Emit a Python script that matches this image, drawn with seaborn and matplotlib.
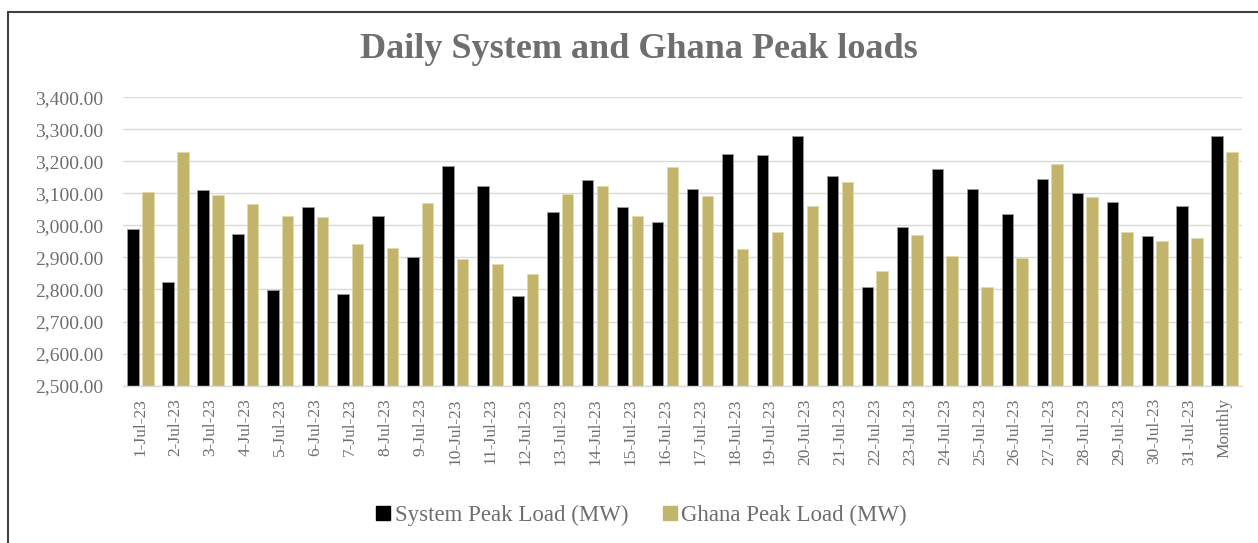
import numpy as np
import pandas as pd
import matplotlib
matplotlib.use('Agg')
import matplotlib.pyplot as plt
from matplotlib.lines import Line2D
import seaborn as sns

# Daily values (MW)
days = [f'{d}-Jul-23' for d in range(1, 32)] + ['Monthly']
system_peak = [2990, 2823, 3112, 2974, 2798, 3058, 2786, 3030, 2900, 3186,
               3123, 2781, 3041, 3142, 3058, 3012, 3115, 3222, 3221, 3278,
               3156, 2808, 2996, 3175, 3114, 3036, 3144, 3100, 3074, 2967,
               3062, 3278]
ghana_peak = [3105, 3231, 3096, 3068, 3030, 3026, 2942, 2930, 3070, 2895,
              2880, 2847, 3098, 3123, 3031, 3182, 3092, 2925, 2979, 3060,
              3135, 2859, 2970, 2904, 2807, 2899, 3192, 3088, 2980, 2950,
              2960, 3231]
series_names = ['System Peak Load (MW)', 'Ghana Peak Load (MW)']
colors = ['#000000', '#C2B46B']

df = pd.DataFrame({
    'Day': days * 2,
    'Load': system_peak + ghana_peak,
    'Series': [series_names[0]] * len(days) + [series_names[1]] * len(days),
})

sns.set_theme(style='white')
plt.rcParams['font.family'] = ['Liberation Serif', 'DejaVu Serif']

fig = plt.figure(figsize=(12.58, 5.43), dpi=100)
ax = fig.add_axes([0.0978, 0.29, 0.8895, 0.5306])

sns.barplot(data=df, x='Day', y='Load', hue='Series', palette=colors,
            width=0.84, gap=0.22, saturation=1, ax=ax, legend=False)
for bar_container, ec in zip(ax.containers, ['#9A9A9A', '#E0D9A8']):
    for patch in bar_container:
        patch.set_edgecolor(ec)
        patch.set_linewidth(0.6)

ax.set_ylim(2500, 3400)
ax.set_xlim(-0.5, len(days) - 0.5)
yticks = np.arange(2500, 3401, 100)
ax.set_yticks(yticks)
ax.set_yticklabels([f'{v:,.2f}' for v in yticks], color='#6E6E6E', fontsize=14)
ax.set_xticks(range(len(days)))
ax.set_xticklabels(days, rotation=90, color='#6E6E6E', fontsize=12.5)
ax.tick_params(axis='y', length=0, pad=14)
ax.tick_params(axis='x', length=0, pad=9)
ax.set_xlabel('')
ax.set_ylabel('')
ax.yaxis.grid(True, color='#D9D9D9', linewidth=1)
ax.set_axisbelow(True)
for side in ['top', 'right', 'left']:
    ax.spines[side].set_visible(False)
ax.spines['bottom'].set_color('#D9D9D9')
ax.spines['bottom'].set_linewidth(1)

fig.text(0.508, 0.908, 'Daily System and Ghana Peak loads', ha='center', va='center',
         fontsize=26, fontweight='bold', color='#6E6E6E')

handles = [Line2D([0], [0], marker='s', linestyle='', markersize=9.5,
                  markerfacecolor=c, markeredgecolor=c) for c in colors]
fig.legend(handles, series_names, loc='center', bbox_to_anchor=(0.51, 0.05),
           ncol=2, frameon=False, fontsize=16.5, handlelength=0.6,
           handletextpad=0.2, columnspacing=1.5, labelcolor='#6E6E6E')

# chart border
fig.add_artist(Line2D([8 / 1258, 1], [1 - 11.5 / 543, 1 - 11.5 / 543],
                      transform=fig.transFigure, color='#404040', linewidth=1.5))
fig.add_artist(Line2D([8 / 1258, 8 / 1258], [0, 1 - 11.5 / 543],
                      transform=fig.transFigure, color='#404040', linewidth=1.5))

fig.savefig('out.png', dpi=100)
